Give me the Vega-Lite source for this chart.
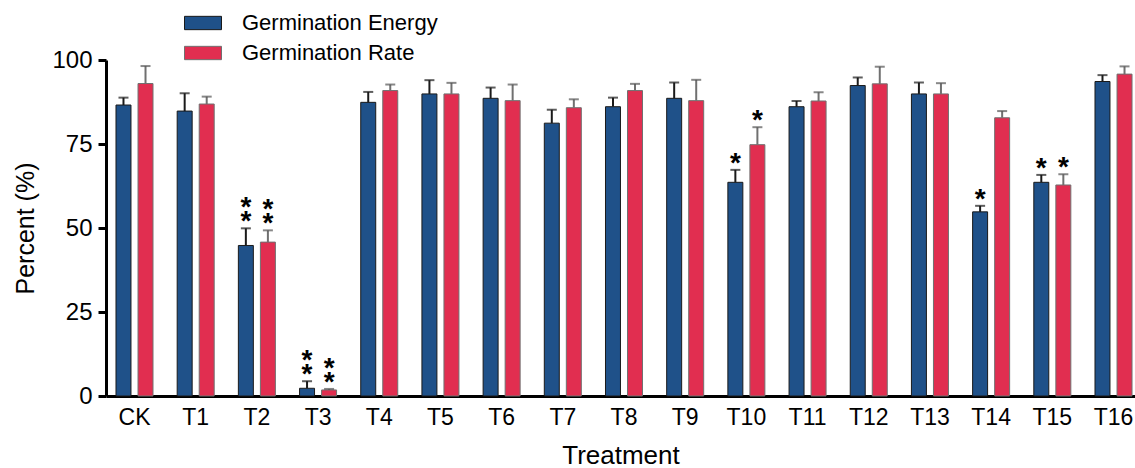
{
  "$schema": "https://vega.github.io/schema/vega-lite/v6.json",
  "width": 1029,
  "height": 336,
  "autosize": {"type": "none"},
  "padding": {"left": 106, "top": 60, "right": 0, "bottom": 72},
  "background": "white",
  "config": {
    "font": "Liberation Sans",
    "view": {"stroke": null},
    "axis": {"grid": false, "domainColor": "black", "labelColor": "black", "titleColor": "black", "titleFontWeight": "normal"}
  },
  "data": {
    "values": [
      {"treatment": "CK", "series": "Germination Energy", "value": 86.6, "upper": 88.8, "star": "", "star2": ""},
      {"treatment": "CK", "series": "Germination Rate", "value": 93.0, "upper": 98.2, "star": "", "star2": ""},
      {"treatment": "T1", "series": "Germination Energy", "value": 84.8, "upper": 90.1, "star": "", "star2": ""},
      {"treatment": "T1", "series": "Germination Rate", "value": 86.9, "upper": 89.1, "star": "", "star2": ""},
      {"treatment": "T2", "series": "Germination Energy", "value": 44.8, "upper": 49.9, "star": "*", "star2": "*"},
      {"treatment": "T2", "series": "Germination Rate", "value": 45.8, "upper": 49.3, "star": "*", "star2": "*"},
      {"treatment": "T3", "series": "Germination Energy", "value": 2.3, "upper": 4.4, "star": "*", "star2": "*"},
      {"treatment": "T3", "series": "Germination Rate", "value": 1.8, "upper": 2.1, "star": "*", "star2": "*"},
      {"treatment": "T4", "series": "Germination Energy", "value": 87.4, "upper": 90.5, "star": "", "star2": ""},
      {"treatment": "T4", "series": "Germination Rate", "value": 90.9, "upper": 92.7, "star": "", "star2": ""},
      {"treatment": "T5", "series": "Germination Energy", "value": 89.9, "upper": 94.0, "star": "", "star2": ""},
      {"treatment": "T5", "series": "Germination Rate", "value": 89.9, "upper": 93.2, "star": "", "star2": ""},
      {"treatment": "T6", "series": "Germination Energy", "value": 88.6, "upper": 91.8, "star": "", "star2": ""},
      {"treatment": "T6", "series": "Germination Rate", "value": 87.9, "upper": 92.7, "star": "", "star2": ""},
      {"treatment": "T7", "series": "Germination Energy", "value": 81.2, "upper": 85.2, "star": "", "star2": ""},
      {"treatment": "T7", "series": "Germination Rate", "value": 85.8, "upper": 88.3, "star": "", "star2": ""},
      {"treatment": "T8", "series": "Germination Energy", "value": 86.1, "upper": 88.8, "star": "", "star2": ""},
      {"treatment": "T8", "series": "Germination Rate", "value": 90.9, "upper": 92.9, "star": "", "star2": ""},
      {"treatment": "T9", "series": "Germination Energy", "value": 88.6, "upper": 93.3, "star": "", "star2": ""},
      {"treatment": "T9", "series": "Germination Rate", "value": 87.9, "upper": 94.1, "star": "", "star2": ""},
      {"treatment": "T10", "series": "Germination Energy", "value": 63.6, "upper": 67.3, "star": "*", "star2": ""},
      {"treatment": "T10", "series": "Germination Rate", "value": 74.8, "upper": 80.0, "star": "*", "star2": ""},
      {"treatment": "T11", "series": "Germination Energy", "value": 86.1, "upper": 87.8, "star": "", "star2": ""},
      {"treatment": "T11", "series": "Germination Rate", "value": 87.8, "upper": 90.4, "star": "", "star2": ""},
      {"treatment": "T12", "series": "Germination Energy", "value": 92.4, "upper": 94.8, "star": "", "star2": ""},
      {"treatment": "T12", "series": "Germination Rate", "value": 92.9, "upper": 98.0, "star": "", "star2": ""},
      {"treatment": "T13", "series": "Germination Energy", "value": 89.9, "upper": 93.3, "star": "", "star2": ""},
      {"treatment": "T13", "series": "Germination Rate", "value": 89.9, "upper": 93.1, "star": "", "star2": ""},
      {"treatment": "T14", "series": "Germination Energy", "value": 54.8, "upper": 56.6, "star": "*", "star2": ""},
      {"treatment": "T14", "series": "Germination Rate", "value": 82.8, "upper": 84.8, "star": "", "star2": ""},
      {"treatment": "T15", "series": "Germination Energy", "value": 63.6, "upper": 65.8, "star": "*", "star2": ""},
      {"treatment": "T15", "series": "Germination Rate", "value": 62.8, "upper": 66.0, "star": "*", "star2": ""},
      {"treatment": "T16", "series": "Germination Energy", "value": 93.6, "upper": 95.5, "star": "", "star2": ""},
      {"treatment": "T16", "series": "Germination Rate", "value": 95.8, "upper": 98.1, "star": "", "star2": ""}
    ]
  },
  "encoding": {
    "x": {
      "field": "treatment", "type": "nominal", "sort": null,
      "scale": {"paddingInner": 0.395, "paddingOuter": 0.106, "align": 0.77},
      "axis": {"title": "Treatment", "labelAngle": 0, "ticks": false, "domainWidth": 3, "labelFontSize": 23, "labelPadding": 10, "titleFontSize": 26, "titlePadding": 13}
    },
    "xOffset": {"field": "series", "type": "nominal", "scale": {"paddingInner": 0.32, "paddingOuter": 0}}
  },
  "layer": [
    {
      "mark": {"type": "bar", "strokeWidth": 1},
      "encoding": {
        "y": {
          "field": "value", "type": "quantitative",
          "scale": {"domain": [0, 100], "nice": false},
          "axis": {"title": "Percent (%)", "values": [0, 25, 50, 75, 100], "domainWidth": 3, "tickWidth": 3, "tickSize": 8, "tickColor": "black", "labelFontSize": 24, "labelPadding": 6, "titleFontSize": 25, "titlePadding": 13}
        },
        "color": {
          "field": "series", "type": "nominal",
          "scale": {"domain": ["Germination Energy", "Germination Rate"], "range": ["#1f5189", "#e12e50"]},
          "legend": {
            "title": null, "orient": "none", "legendX": 78, "legendY": -56,
            "symbolType": "M-1,-0.36L1,-0.36L1,0.36L-1,0.36Z", "symbolSize": 1369,
            "symbolStrokeWidth": 1, "labelFontSize": 22, "labelOffset": 20, "labelLimit": 400, "rowPadding": -3, "labelColor": "black"
          }
        },
        "stroke": {
          "field": "series", "type": "nominal",
          "scale": {"domain": ["Germination Energy", "Germination Rate"], "range": ["#1a1a1a", "#707070"]},
          "legend": {
            "title": null, "orient": "none", "legendX": 78, "legendY": -56,
            "symbolType": "M-1,-0.36L1,-0.36L1,0.36L-1,0.36Z", "symbolSize": 1369,
            "symbolStrokeWidth": 1, "labelFontSize": 22, "labelOffset": 20, "labelLimit": 400, "rowPadding": -3, "labelColor": "black"
          }
        }
      }
    },
    {
      "mark": {"type": "rule", "strokeWidth": 2},
      "encoding": {
        "y": {"field": "value", "type": "quantitative"},
        "y2": {"field": "upper"},
        "stroke": {"field": "series", "type": "nominal"}
      }
    },
    {
      "mark": {"type": "tick", "orient": "horizontal", "thickness": 2, "size": 10},
      "encoding": {
        "y": {"field": "upper", "type": "quantitative"},
        "fill": {"field": "series", "type": "nominal", "scale": {"domain": ["Germination Energy", "Germination Rate"], "range": ["#1a1a1a", "#555555"]}, "legend": null}
      }
    },
    {
      "mark": {"type": "text", "fontSize": 28, "fontWeight": "bold", "baseline": "bottom", "dy": 8, "color": "black"},
      "encoding": {
        "y": {"field": "upper", "type": "quantitative"},
        "text": {"field": "star", "type": "nominal"}
      }
    },
    {
      "mark": {"type": "text", "fontSize": 28, "fontWeight": "bold", "baseline": "bottom", "dy": -6, "color": "black"},
      "encoding": {
        "y": {"field": "upper", "type": "quantitative"},
        "text": {"field": "star2", "type": "nominal"}
      }
    }
  ]
}
